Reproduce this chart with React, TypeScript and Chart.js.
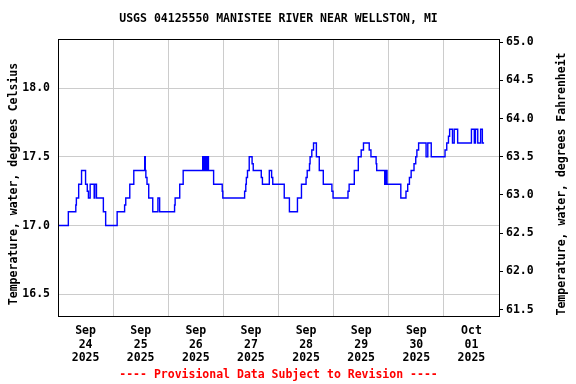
import React, { useEffect, useRef } from "react";
import { Chart, registerables } from "chart.js";

Chart.register(...registerables);

const chartTitle = "USGS 04125550 MANISTEE RIVER NEAR WELLSTON, MI";
const leftAxisTitle = "Temperature, water, degrees Celsius";
const rightAxisTitle = "Temperature, water, degrees Fahrenheit";
const footerNote = "---- Provisional Data Subject to Revision ----";

const dayMonths = ["Sep", "Sep", "Sep", "Sep", "Sep", "Sep", "Sep", "Oct"];
const dayNumbers = ["24", "25", "26", "27", "28", "29", "30", "01"];
const dayYears = ["2025", "2025", "2025", "2025", "2025", "2025", "2025", "2025"];
const dayLabelHours = [12, 36, 60, 84, 108, 132, 156, 180];
const midnightHours = [0, 24, 48, 72, 96, 120, 144, 168, 192];

const celsiusTicks = [16.5, 17.0, 17.5, 18.0];
const fahrenheitTicks = [61.5, 62.0, 62.5, 63.0, 63.5, 64.0, 64.5, 65.0];
const celsiusRange = [16.342, 18.357];
const hourRange = [0, 192];

// hours since Sep 24 2025 00:00, value at each change
const hours = [
  0, 4.5, 7.75, 8.0, 9.0, 10.25, 12.0, 12.75, 13.25, 14.0, 15.75, 16.0, 16.75, 19.75, 20.75,
  25.75, 29.0, 29.5, 31.25, 33.0, 37.75, 38.0, 38.25, 38.75, 39.5, 41.25, 43.5, 44.25, 50.75,
  51.0, 53.0, 54.5, 63.0, 63.25, 63.5, 64.0, 64.5, 64.75, 65.0, 65.5, 67.75, 71.5, 71.75,
  81.25, 81.75, 82.0, 82.5, 83.25, 84.5, 85.0, 88.5, 89.0, 92.0, 93.0, 93.5, 98.5, 100.75,
  104.25, 106.0, 108.0, 108.5, 109.5, 109.75, 110.5, 111.25, 112.5, 113.75, 115.5, 119.25,
  119.75, 126.25, 126.75, 129.0, 130.75, 132.0, 133.0, 135.5, 136.25, 138.5, 138.75, 142.25,
  142.5, 142.75, 143.0, 143.25, 149.25, 151.5, 152.25, 153.0, 153.75, 155.0, 155.75, 156.25,
  157.0, 160.25, 161.0, 162.5, 168.5, 169.25, 170.0, 170.5, 171.75, 172.5, 174.0, 180.0,
  181.25, 181.75, 182.75, 184.0, 184.75, 185.5,
];
const tempC = [
  17.0, 17.1, 17.15, 17.2, 17.3, 17.4, 17.3, 17.25, 17.2, 17.3, 17.2, 17.3, 17.2, 17.1, 17.0,
  17.1, 17.15, 17.2, 17.3, 17.4, 17.5, 17.4, 17.35, 17.3, 17.2, 17.1, 17.2, 17.1, 17.15,
  17.2, 17.3, 17.4, 17.5, 17.4, 17.5, 17.4, 17.5, 17.4, 17.5, 17.4, 17.3, 17.25, 17.2,
  17.25, 17.3, 17.35, 17.4, 17.5, 17.45, 17.4, 17.35, 17.3, 17.4, 17.35, 17.3, 17.2, 17.1,
  17.2, 17.3, 17.35, 17.4, 17.45, 17.5, 17.55, 17.6, 17.5, 17.4, 17.3, 17.25,
  17.2, 17.25, 17.3, 17.4, 17.5, 17.55, 17.6, 17.55, 17.5, 17.45, 17.4, 17.3,
  17.4, 17.3, 17.4, 17.3, 17.2, 17.25, 17.3, 17.35, 17.4, 17.45, 17.5, 17.55,
  17.6, 17.5, 17.6, 17.5, 17.55, 17.6, 17.65, 17.7, 17.6, 17.7, 17.6, 17.7,
  17.6, 17.7, 17.6, 17.7, 17.6, 17.6,
];

const FONT_FAMILY = "'DejaVu Sans Mono', monospace";
const FONT_SIZE = 11.5;

const textPlugin = {
  id: "usgsTexts",
  afterDraw(chart: any) {
    const { ctx, chartArea } = chart;
    ctx.save();
    ctx.strokeStyle = "#000000";
    ctx.lineWidth = 1;
    const l = Math.round(chartArea.left) + 0.5;
    const t = Math.round(chartArea.top) + 0.5;
    const r = Math.round(chartArea.right) + 0.5;
    const b = Math.round(chartArea.bottom) + 0.5;
    ctx.strokeRect(l, t, r - l, b - t);

    ctx.font = `bold ${FONT_SIZE}px ${FONT_FAMILY}`;
    ctx.textAlign = "center";
    ctx.textBaseline = "middle";
    const cx = (chartArea.left + chartArea.right) / 2;
    ctx.fillStyle = "#000000";
    ctx.fillText(chartTitle, cx, 19);
    ctx.fillStyle = "#ff0000";
    ctx.fillText(footerNote, cx, 375);

    ctx.fillStyle = "#000000";
    ctx.save();
    ctx.translate(14, 184);
    ctx.rotate(-Math.PI / 2);
    ctx.fillText(leftAxisTitle, 0, 0);
    ctx.restore();
    ctx.save();
    ctx.translate(562, 184);
    ctx.rotate(-Math.PI / 2);
    ctx.fillText(rightAxisTitle, 0, 0);
    ctx.restore();
    ctx.restore();
  },
};

export default function App() {
  const canvasRef = useRef<HTMLCanvasElement | null>(null);

  useEffect(() => {
    document.body.style.margin = "0";
    const canvas = canvasRef.current;
    if (!canvas) return;
    const tickFont = { family: FONT_FAMILY, size: FONT_SIZE, weight: "bold" as const, lineHeight: 1.2 };
    const allXTicks = [...midnightHours, ...dayLabelHours].sort((a, b) => a - b);
    const chart = new Chart(canvas, {
      type: "line",
      data: {
        datasets: [
          {
            data: hours.map((h, i) => ({ x: h, y: tempC[i] })),
            borderColor: "#0000ff",
            borderWidth: 1.4,
            pointRadius: 0,
            fill: false,
            stepped: true,
            yAxisID: "y",
            xAxisID: "x",
          },
        ],
      },
      options: {
        animation: false,
        responsive: false,
        events: [],
        layout: { padding: { top: 39, left: 0, right: 0, bottom: 0 } },
        plugins: { legend: { display: false }, tooltip: { enabled: false }, title: { display: false } },
        scales: {
          x: {
            type: "linear",
            position: "bottom",
            min: hourRange[0],
            max: hourRange[1],
            afterBuildTicks: (scale: any) => {
              scale.ticks = allXTicks.map((v) => ({ value: v }));
            },
            afterFit: (scale: any) => {
              scale.height = 68;
            },
            ticks: {
              autoSkip: false,
              maxRotation: 0,
              minRotation: 0,
              padding: 8,
              color: "#000000",
              font: tickFont,
              callback: (value: any) => {
                const i = dayLabelHours.indexOf(Number(value));
                return i >= 0 ? [dayMonths[i], dayNumbers[i], dayYears[i]] : "";
              },
            },
            grid: {
              drawTicks: false,
              color: (ctx: any) =>
                ctx.tick && midnightHours.includes(ctx.tick.value) ? "#cccccc" : "rgba(0,0,0,0)",
              lineWidth: 1,
            },
            border: { display: true, color: "#000000", width: 1 },
          },
          y: {
            type: "linear",
            position: "left",
            min: celsiusRange[0],
            max: celsiusRange[1],
            afterBuildTicks: (scale: any) => {
              scale.ticks = celsiusTicks.map((v) => ({ value: v }));
            },
            afterFit: (scale: any) => {
              scale.width = 58;
            },
            ticks: {
              padding: 8,
              color: "#000000",
              font: tickFont,
              callback: (value: any) => Number(value).toFixed(1),
            },
            grid: { drawTicks: false, color: "#cccccc", lineWidth: 1 },
            border: { display: true, color: "#000000", width: 1 },
          },
          y2: {
            type: "linear",
            position: "right",
            min: celsiusRange[0] * 1.8 + 32,
            max: celsiusRange[1] * 1.8 + 32,
            afterBuildTicks: (scale: any) => {
              scale.ticks = fahrenheitTicks.map((v) => ({ value: v }));
            },
            afterFit: (scale: any) => {
              scale.width = 77;
            },
            ticks: {
              padding: 3,
              color: "#000000",
              font: tickFont,
              callback: (value: any) => Number(value).toFixed(1),
            },
            grid: {
              drawOnChartArea: false,
              drawTicks: true,
              tickLength: 4,
              tickColor: "#000000",
              color: "#000000",
            },
            border: { display: true, color: "#000000", width: 1 },
          },
        },
      },
      plugins: [textPlugin],
    });
    return () => chart.destroy();
  }, []);

  return (
    <div style={{ width: 576, height: 384, background: "#ffffff" }}>
      <canvas ref={canvasRef} width={576} height={384} style={{ display: "block" }} />
    </div>
  );
}
